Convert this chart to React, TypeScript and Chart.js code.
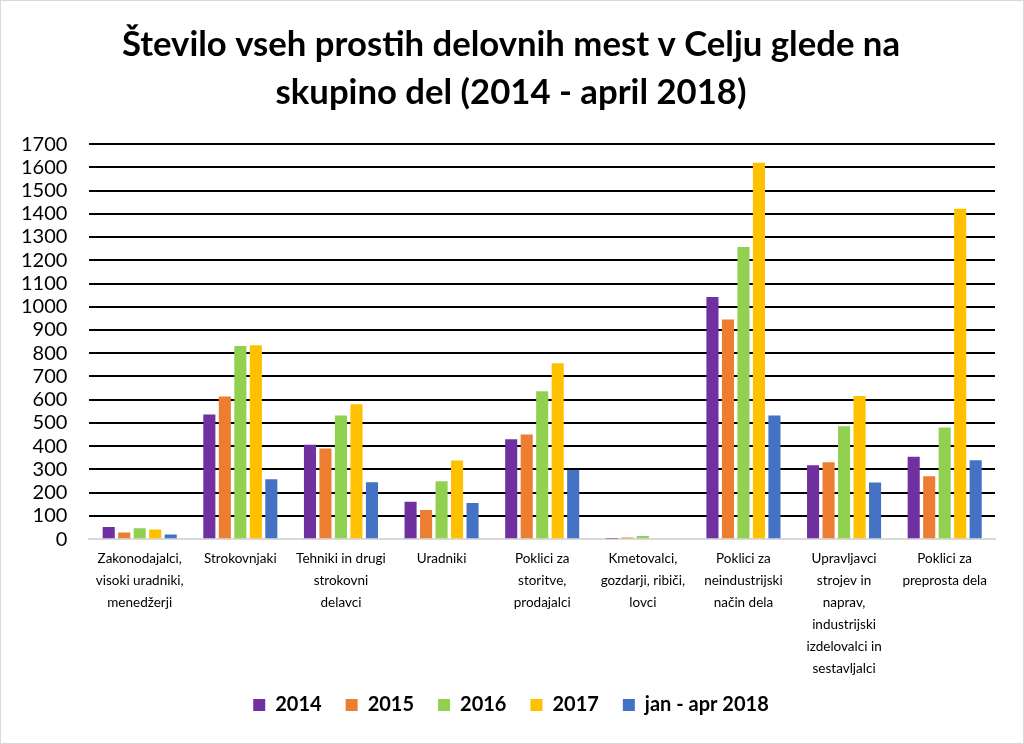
import React, { useEffect, useRef } from "react";
import { Chart, registerables } from "chart.js";

Chart.register(...registerables);

const categories: string[][] = [
  ["Zakonodajalci,", "visoki uradniki,", "menedžerji"],
  ["Strokovnjaki"],
  ["Tehniki in drugi", "strokovni", "delavci"],
  ["Uradniki"],
  ["Poklici za", "storitve,", "prodajalci"],
  ["Kmetovalci,", "gozdarji, ribiči,", "lovci"],
  ["Poklici za", "neindustrijski", "način dela"],
  ["Upravljavci", "strojev in", "naprav,", "industrijski", "izdelovalci in", "sestavljalci"],
  ["Poklici za", "preprosta dela"],
];

const seriesNames = ["2014", "2015", "2016", "2017", "jan - apr 2018"];
const values2014 = [52, 536, 406, 161, 430, 2, 1042, 318, 355];
const values2015 = [29, 614, 390, 126, 450, 7, 945, 331, 271];
const values2016 = [47, 831, 532, 249, 636, 14, 1257, 486, 480];
const values2017 = [42, 834, 581, 338, 757, 0, 1620, 616, 1422];
const values2018 = [20, 258, 245, 156, 298, 0, 532, 244, 340];
const seriesColors = ["#7030a0", "#ed7d31", "#92d050", "#ffc000", "#4472c4"];

const titleLines = ["Število vseh prostih delovnih mest v Celju glede na", "skupino del (2014 - april 2018)"];
const FONT = "Lato, 'Open Sans', sans-serif";
const X_OVERLAP = 17;

export default function App() {
  const ref = useRef<HTMLCanvasElement | null>(null);
  useEffect(() => {
    document.body.style.margin = "0";
    if (!ref.current) return;
    const all = [values2014, values2015, values2016, values2017, values2018];
    const chart = new Chart(ref.current, {
      type: "bar",
      data: {
        labels: categories,
        datasets: all.map((v, i) => ({
          label: seriesNames[i],
          data: v,
          backgroundColor: seriesColors[i],
          borderWidth: 0,
          categoryPercentage: 0.77,
          barPercentage: 0.78,
        })),
      },
      plugins: [
        {
          id: "extendXLabels",
          afterLayout: (c: any) => {
            c.scales.x.bottom += X_OVERLAP;
          },
        },
      ],
      options: {
        animation: false,
        responsive: false,
        layout: { padding: { left: -2, right: 0, top: 0, bottom: 18 } },
        plugins: {
          title: {
            display: true,
            text: titleLines,
            color: "#000",
            font: { family: FONT, size: 34.7, weight: "bold", lineHeight: 1.37 },
            padding: { top: 20, bottom: 28 },
          },
          legend: {
            position: "bottom",
            labels: {
              color: "#000",
              font: { family: FONT, size: 20, weight: "bold" },
              boxWidth: 12,
              boxHeight: 12,
              padding: 24,
            },
          },
          tooltip: { enabled: false },
        },
        scales: {
          x: {
            grid: { display: false, drawTicks: false },
            border: { color: "#d9d9d9", width: 2 },
            ticks: {
              color: "#000",
              font: { family: FONT, size: 13.5, lineHeight: 1.64 },
              maxRotation: 0,
              autoSkip: false,
              padding: 8,
            },
            afterFit: (scale: any) => {
              scale.height = scale.height - X_OVERLAP;
              scale.paddingLeft = 0;
              scale.paddingRight = 28;
            },
          },
          y: {
            min: 0,
            max: 1700,
            ticks: {
              stepSize: 100,
              autoSkip: false,
              color: "#000",
              font: { family: FONT, size: 20 },
              padding: 22,
              callback: (v: any) => String(v),
            },
            grid: {
              color: (ctx: any) => (ctx.tick && ctx.tick.value === 0 ? "#d9d9d9" : "#000"),
              lineWidth: 2,
              drawTicks: false,
            },
            border: { display: false },
          },
        },
      },
    });
    return () => chart.destroy();
  }, []);
  return (
    <div style={{ width: 1024, height: 744, boxSizing: "border-box", border: "1px solid #d9d9d9", background: "#fff" }}>
      <canvas ref={ref} width={1022} height={742} style={{ display: "block" }} />
    </div>
  );
}
